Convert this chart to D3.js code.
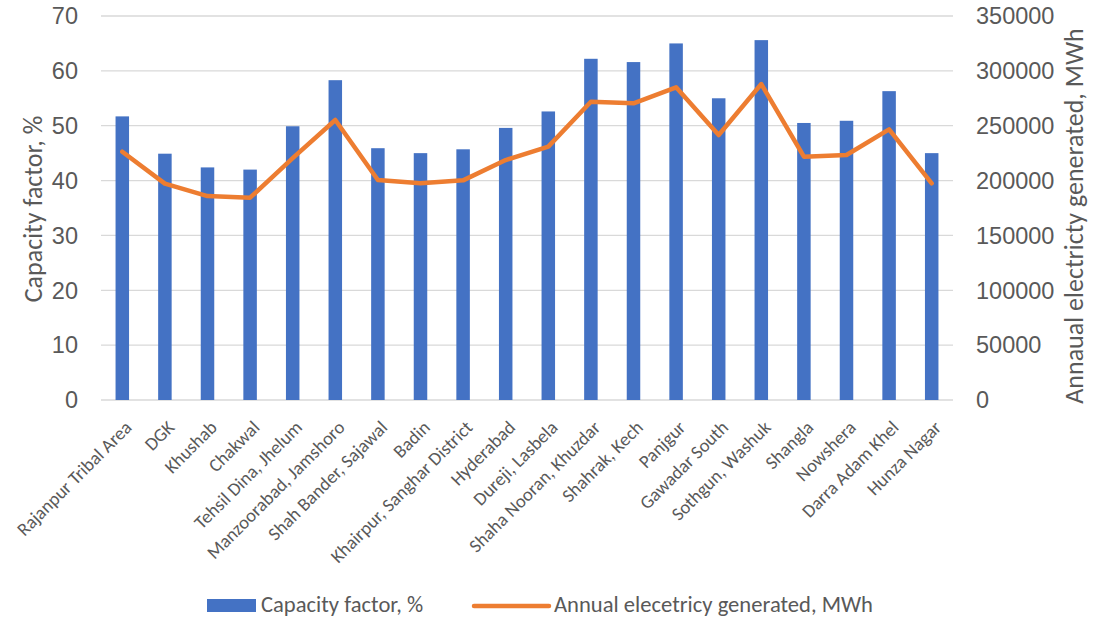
<!DOCTYPE html>
<html>
<head>
<meta charset="utf-8">
<script src="https://cdn.jsdelivr.net/npm/d3@7"></script>
<style>
  html, body { margin: 0; padding: 0; background: #fff; }
  svg { display: block; font-family: Calibri, Carlito, "Open Sans", "Liberation Sans", sans-serif; }
</style>
</head>
<body>
<svg id="chart" width="1093" height="622"></svg>
<script>
// Sites along the horizontal axis
const sites = [
  "Rajanpur Tribal Area", "DGK", "Khushab", "Chakwal", "Tehsil Dina, Jhelum",
  "Manzoorabad, Jamshoro", "Shah Bander, Sajawal", "Badin", "Khairpur, Sanghar District",
  "Hyderabad", "Dureji, Lasbela", "Shaha Nooran, Khuzdar", "Shahrak, Kech", "Panjgur",
  "Gawadar South", "Sothgun, Washuk", "Shangla", "Nowshera", "Darra Adam Khel", "Hunza Nagar"
];

// Capacity factor per site, %
const capacityFactor = [
  51.7, 44.9, 42.4, 42.0, 49.9, 58.3, 45.9, 45.0, 45.7, 49.6,
  52.6, 62.2, 61.6, 65.0, 55.0, 65.6, 50.5, 50.9, 56.3, 45.0
];

// Annual electricity generated per site, MWh
const annualEnergy = [
  226300, 197200, 185900, 184400, 220500, 255200, 200500, 197500, 200200, 218700,
  230900, 271900, 270400, 285000, 241500, 288000, 221800, 223300, 246700, 197500
];

const leftTicks = [0, 10, 20, 30, 40, 50, 60, 70];
const rightTicks = [0, 50000, 100000, 150000, 200000, 250000, 300000, 350000];

const svg = d3.select("#chart");
const plot = { left: 101, right: 953, top: 16, bottom: 400 };
const textColor = "#595959";

const x = d3.scaleBand().domain(sites).range([plot.left, plot.right]).paddingInner(0).paddingOuter(0);
const yL = d3.scaleLinear().domain([0, 70]).range([plot.bottom, plot.top]);
const yR = d3.scaleLinear().domain([0, 350000]).range([plot.bottom, plot.top]);

// Horizontal gridlines
svg.append("g")
  .selectAll("line")
  .data(leftTicks)
  .join("line")
  .attr("x1", plot.left).attr("x2", plot.right)
  .attr("y1", d => yL(d)).attr("y2", d => yL(d))
  .attr("stroke", "#d9d9d9").attr("stroke-width", 1.3);

// Left axis labels
const leftAxis = svg.append("g")
  .attr("transform", `translate(${plot.left - 23},0)`)
  .call(d3.axisLeft(yL).tickValues(leftTicks).tickSize(0).tickPadding(0));
leftAxis.select(".domain").remove();
leftAxis.selectAll("text").attr("fill", textColor).style("font-size", "23.5px").attr("dy", "0.33em");

// Right axis labels
const rightAxis = svg.append("g")
  .attr("transform", `translate(${plot.right + 23},0)`)
  .call(d3.axisRight(yR).tickValues(rightTicks).tickSize(0).tickPadding(0).tickFormat(d3.format("d")));
rightAxis.select(".domain").remove();
rightAxis.selectAll("text").attr("fill", textColor).style("font-size", "23.5px").attr("dy", "0.33em");

// Bars
const barW = 13.5;
svg.append("g")
  .selectAll("rect")
  .data(sites)
  .join("rect")
  .attr("x", d => x(d) + x.bandwidth() / 2 - barW / 2)
  .attr("width", barW)
  .attr("y", (d, i) => yL(capacityFactor[i]))
  .attr("height", (d, i) => yL(0) - yL(capacityFactor[i]))
  .attr("fill", "#4472C4");

// Energy line
const line = d3.line()
  .x((d, i) => x(sites[i]) + x.bandwidth() / 2)
  .y(d => yR(d));
svg.append("path")
  .datum(annualEnergy)
  .attr("d", line)
  .attr("fill", "none")
  .attr("stroke", "#ED7D31")
  .attr("stroke-width", 4.5)
  .attr("stroke-linejoin", "round")
  .attr("stroke-linecap", "round");

// Category labels, rotated
svg.append("g")
  .selectAll("text")
  .data(sites)
  .join("text")
  .attr("transform", d => `translate(${x(d) + x.bandwidth() / 2 + 6},${plot.bottom + 24}) rotate(-45)`)
  .attr("text-anchor", "end")
  .attr("dominant-baseline", "central")
  .attr("fill", textColor)
  .style("font-size", "18.6px")
  .text(d => d);

// Axis titles
svg.append("text")
  .attr("transform", `translate(42,209) rotate(-90)`)
  .attr("text-anchor", "middle")
  .attr("fill", textColor)
  .style("font-size", "26px")
  .text("Capacity factor, %");

svg.append("text")
  .attr("transform", `translate(1083,216) rotate(-90)`)
  .attr("text-anchor", "middle")
  .attr("fill", textColor)
  .style("font-size", "26px")
  .text("Annaual electricty generated, MWh");

// Legend
const legend = svg.append("g");
legend.append("rect")
  .attr("x", 207).attr("y", 599).attr("width", 49).attr("height", 13)
  .attr("fill", "#4472C4");
legend.append("text")
  .attr("x", 261).attr("y", 612)
  .attr("fill", textColor).style("font-size", "22.6px")
  .text("Capacity factor, %");
legend.append("line")
  .attr("x1", 474).attr("x2", 549).attr("y1", 606).attr("y2", 606)
  .attr("stroke", "#ED7D31").attr("stroke-width", 4.5).attr("stroke-linecap", "round");
legend.append("text")
  .attr("x", 554).attr("y", 612)
  .attr("fill", textColor).style("font-size", "22.6px")
  .text("Annual elecetricy generated, MWh");
</script>
</body>
</html>
